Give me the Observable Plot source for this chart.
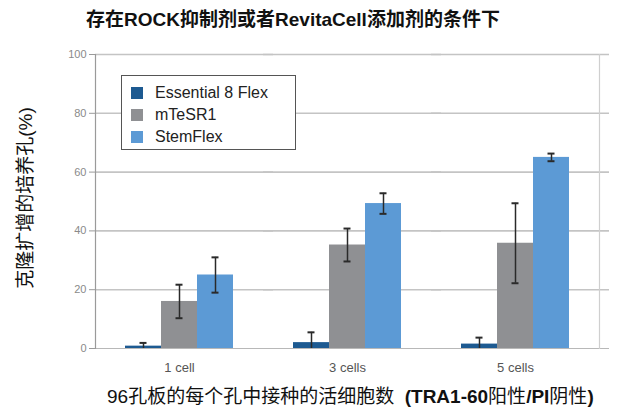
<!DOCTYPE html>
<html>
<head>
<meta charset="utf-8">
<script src="https://cdn.jsdelivr.net/npm/d3@7"></script>
<script src="https://cdn.jsdelivr.net/npm/@observablehq/plot@0.6"></script>
<style>
  html, body { margin: 0; padding: 0; background: #fff; }
  body { font-family: "Liberation Sans", "Noto Sans CJK SC", sans-serif; }
  #wrap { position: relative; width: 624px; height: 408px; overflow: hidden; }
  #chart { position: absolute; left: 0; top: 0; }
  .title { position: absolute; left: 0; width: 586px; top: 9px; text-align: center; font-size: 19px; line-height: 22px; font-weight: bold; color: #111; white-space: nowrap; }
  .ytitle { position: absolute; left: 26px; top: 198px; transform: translate(-50%, -50%) rotate(-90deg); font-size: 19px; line-height: 22px; color: #111; white-space: nowrap; }
  .xtitle { position: absolute; left: 107px; top: 386px; font-size: 19px; line-height: 22px; color: #111; white-space: nowrap; }
  .xtitle b { font-weight: bold; }
  .legend { position: absolute; left: 121px; top: 75px; width: 175px; height: 75px; border: 1px solid #555; background: #fff; box-sizing: border-box; padding-top: 6px; }
  .legend .item { display: flex; align-items: center; height: 22px; font-size: 16px; color: #222; }
  .legend .sw { width: 12px; height: 12px; margin-left: 9px; margin-right: 12px; }
</style>
</head>
<body>
<div id="wrap">
  <div id="chart"></div>
  <div class="title">存在ROCK抑制剂或者RevitaCell添加剂的条件下</div>
  <div class="ytitle">克隆扩增的培养孔(%)</div>
  <div class="xtitle">96孔板的每个孔中接种的活细胞数&nbsp;&nbsp;<b>(TRA1-60</b>阳性<b>/PI</b>阴性<b>)</b></div>
  <div class="legend" id="legend"></div>
</div>
<script>
// ---- data ----
const categories = ["1 cell", "3 cells", "5 cells"];
const seriesNames = ["Essential 8 Flex", "mTeSR1", "StemFlex"];
const essential8Flex = [0.8, 2.0, 1.5];
const essential8FlexErr = [1.1, 3.5, 2.2];
const mTeSR1 = [16.0, 35.2, 35.8];
const mTeSR1Err = [5.7, 5.6, 13.6];
const stemFlex = [25.0, 49.3, 65.0];
const stemFlexErr = [6.0, 3.5, 1.3];
const yTicks = [0, 20, 40, 60, 80, 100];
const colors = ["#1d5a91", "#8f9093", "#5c9ad5"];

const valueLists = [essential8Flex, mTeSR1, stemFlex];
const errLists = [essential8FlexErr, mTeSR1Err, stemFlexErr];
const rows = [];
categories.forEach((c, i) => {
  seriesNames.forEach((s, j) => {
    const v = valueLists[j][i], e = errLists[j][i];
    rows.push({cat: c, series: s, value: v, lo: Math.max(0, v - e), hi: v + e});
  });
});

// ---- legend ----
const lg = document.getElementById("legend");
seriesNames.forEach((s, j) => {
  const d = document.createElement("div");
  d.className = "item";
  d.innerHTML = `<span class="sw" style="background:${colors[j]}"></span><span>${s}</span>`;
  lg.appendChild(d);
});

// ---- chart ----
const marks = [
  Plot.ruleY(yTicks.filter(t => t > 0), {stroke: "#c4c4c4", strokeWidth: 1.6, insetRight: -10}),
  Plot.ruleY([0], {stroke: "#b8b8b8", strokeWidth: 1.2, insetRight: -10}),
  Plot.frame({facet: "super", anchor: "left", stroke: "#9a9a9a", strokeWidth: 1.2}),
  Plot.frame({facet: "super", anchor: "right", stroke: "#cfcfcf", strokeWidth: 1.2}),
  Plot.axisY({ticks: yTicks, tickSize: 6, tickPadding: 3, fill: "#8a8a8a", stroke: "#9a9a9a", fontSize: 11, label: null}),
  Plot.axisFx({anchor: "bottom", tickSize: 0, tickPadding: 14, fill: "#555", fontSize: 13, label: null}),
  Plot.barY(rows, {fx: "cat", x: "series", y: "value", fill: "series"}),
  Plot.ruleX(rows, {fx: "cat", x: "series", y1: "lo", y2: "hi", stroke: "#2a2a2a", strokeWidth: 1.5}),
  Plot.tickY(rows, {fx: "cat", x: "series", y: "hi", stroke: "#2a2a2a", strokeWidth: 2, insetLeft: 14.5, insetRight: 14.5}),
  Plot.tickY(rows.filter(r => r.lo > 0), {fx: "cat", x: "series", y: "lo", stroke: "#2a2a2a", strokeWidth: 2, insetLeft: 14.5, insetRight: 14.5})
];

const plot = Plot.plot({
  width: 624,
  height: 408,
  marginTop: 54,
  marginBottom: 60,
  marginLeft: 95,
  marginRight: 13,
  style: {fontFamily: '"Liberation Sans", "Noto Sans CJK SC", sans-serif', background: "transparent"},
  fx: {domain: categories, paddingInner: 0, paddingOuter: 0.03, align: 0, label: null},
  x: {domain: seriesNames, paddingInner: 0, paddingOuter: 0.78, axis: null},
  y: {domain: [0, 100], axis: null},
  color: {domain: seriesNames, range: colors},
  marks
});
document.getElementById("chart").appendChild(plot);
</script>
</body>
</html>
